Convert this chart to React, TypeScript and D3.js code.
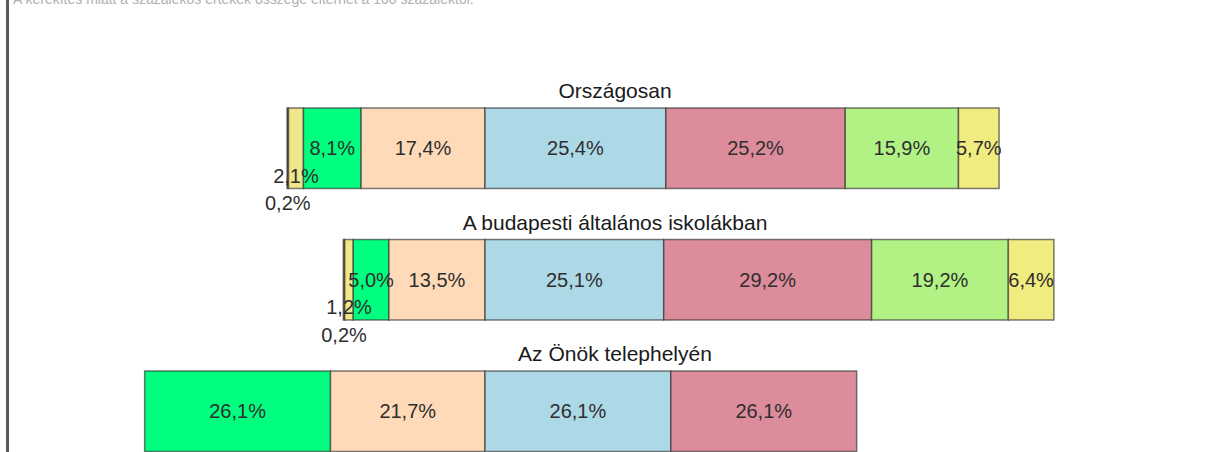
import React from "react";
import * as d3 from "d3";

const rows = ["Országosan", "A budapesti általános iskolákban", "Az Önök telephelyén"];
const categories = ["k1", "k2", "k3", "k4", "k5", "k6", "k7", "k8"];
const colors = ["#A0522D", "#F0E68C", "#00FF7F", "#FFDAB9", "#ADD8E6", "#DD8C9C", "#B2F285", "#F1EC80"];
const valuesOrszagos = [0.2, 2.1, 8.1, 17.4, 25.4, 25.2, 15.9, 5.7];
const valuesBudapest = [0.2, 1.2, 5.0, 13.5, 25.1, 29.2, 19.2, 6.4];
const valuesTelephely = [0, 0, 26.1, 21.7, 26.1, 26.1, 0, 0];
const rowValues = [valuesOrszagos, valuesBudapest, valuesTelephely];
const leftCount = 4;
const note = "A kerekítés miatt a százalékos értékek összege eltérhet a 100 százaléktól.";

const W = 1222;
const H = 452;

const fmt = (v: number) => d3.format(".1f")(v).replace(".", ",") + "%";

export default function App() {
  const x = d3.scaleLinear().domain([-50, 50]).range([485 - 356, 485 + 356]);
  const y = d3.scaleBand<string>().domain(rows).range([108, 451.5]).paddingInner(0.388).paddingOuter(0);
  const bw = y.bandwidth();
  const titleX = (8 + W) / 2;

  const rowEls = rows.map((r, ri) => {
    const vals = rowValues[ri];
    const segs: { i: number; x0: number; x1: number; v: number }[] = [];
    let acc = 0;
    for (let i = leftCount - 1; i >= 0; i--) {
      segs.push({ i, x0: -(acc + vals[i]), x1: -acc, v: vals[i] });
      acc += vals[i];
    }
    acc = 0;
    for (let i = leftCount; i < vals.length; i++) {
      segs.push({ i, x0: acc, x1: acc + vals[i], v: vals[i] });
      acc += vals[i];
    }
    const y0 = y(r)!;
    const cy = y0 + bw / 2;
    const offsets: Record<number, number> = {};
    let k = 0;
    segs
      .filter((s) => s.i < leftCount)
      .forEach((s) => {
        if (s.v > 0 && s.v < 3) {
          k += 1;
          offsets[s.i] = k;
        }
      });
    k = 0;
    segs
      .filter((s) => s.i >= leftCount)
      .forEach((s) => {
        if (s.v > 0 && s.v < 3) {
          k += 1;
          offsets[s.i] = k;
        }
      });
    const drawn = segs.filter((s) => s.v > 0).sort((a, b) => a.i - b.i);
    return (
      <g key={r}>
        <text x={titleX} y={y0 - 10} textAnchor="middle" fontSize={21} fill="#1a1a1a">
          {r}
        </text>
        {drawn.map((s) => (
          <rect
            key={"r" + s.i}
            x={x(s.x0)}
            y={y0}
            width={x(s.x1) - x(s.x0)}
            height={bw}
            fill={colors[s.i]}
            stroke="rgba(50,50,50,0.65)"
            strokeWidth={1.5}
          />
        ))}
        {drawn.map((s) => (
          <text
            key={"t" + s.i}
            x={(x(s.x0) + x(s.x1)) / 2}
            y={cy + (offsets[s.i] || 0) * 27.5}
            textAnchor="middle"
            dominantBaseline="central"
            fontSize={20}
            fill="#2e2e2e"
          >
            {fmt(s.v)}
          </text>
        ))}
      </g>
    );
  });

  return (
    <svg
      width={W}
      height={H}
      style={{ position: "absolute", left: 0, top: 0, background: "#fff" }}
      fontFamily="'Liberation Sans', Arial, sans-serif"
    >
      <rect x={0} y={0} width={W} height={H} fill="#fff" />
      <text x={13} y={4} fontSize={14} fill="#b0b0b0">
        {note}
      </text>
      <line x1={7.5} x2={7.5} y1={0} y2={H} stroke="#5a5a5a" strokeWidth={3} />
      {rowEls}
    </svg>
  );
}
